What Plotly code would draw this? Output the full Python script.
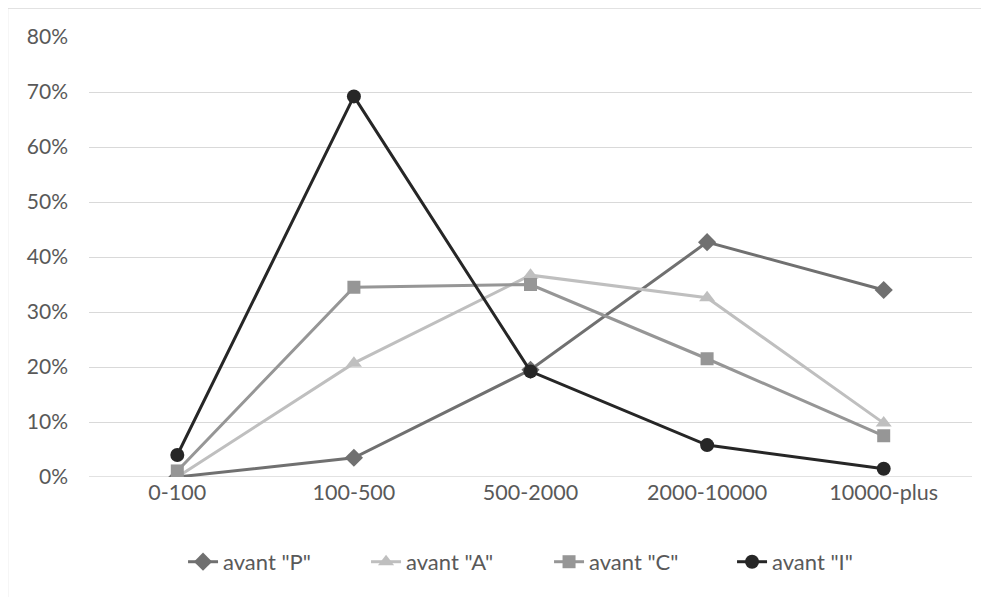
import plotly.graph_objects as go

categories = ["0-100", "100-500", "500-2000", "2000-10000", "10000-plus"]
avant_P = [0.0, 3.5, 19.5, 42.7, 34.0]
avant_A = [0.0, 20.7, 36.7, 32.6, 9.8]
avant_C = [1.1, 34.5, 35.0, 21.5, 7.5]
avant_I = [4.0, 69.2, 19.2, 5.8, 1.5]
y_ticks = [0, 10, 20, 30, 40, 50, 60, 70, 80]
y_tick_labels = [f"{v}%" for v in y_ticks]

series = [
    ('avant "P"', avant_P, "#707070", "diamond", 14),
    ('avant "A"', avant_A, "#bfbfbf", "triangle-up", 14),
    ('avant "C"', avant_C, "#969696", "square", 13),
    ('avant "I"', avant_I, "#262626", "circle", 14),
]

fig = go.Figure()
for name, vals, color, sym, size in series:
    fig.add_trace(go.Scatter(
        x=categories, y=vals, name=name, mode="lines+markers",
        line=dict(color=color, width=3),
        marker=dict(symbol=sym, size=size, color=color),
    ))

fig.update_layout(
    width=981, height=589,
    margin=dict(l=81, r=17, t=29, b=120),
    plot_bgcolor="white", paper_bgcolor="white",
    font=dict(family="Lato, Open Sans, sans-serif", color="#595959"),
    showlegend=True,
    legend=dict(orientation="h", x=0.1065, xanchor="left", y=-0.193, yanchor="middle",
                font=dict(size=22, color="#595959"), itemwidth=30,
                entrywidth=138, entrywidthmode="pixels"),
    xaxis=dict(showgrid=False, showline=False, zeroline=False, ticks="",
               tickfont=dict(size=21.5, color="#595959"), range=[-0.5, 4.5]),
    yaxis=dict(range=[0, 80], tickvals=y_ticks, ticktext=y_tick_labels,
               showgrid=True, gridcolor="#d9d9d9", gridwidth=1.3,
               zeroline=False, showline=False, ticks="",
               tickfont=dict(size=21, color="#595959"), ticklabelstandoff=20),
    shapes=[dict(type="rect", xref="paper", yref="paper",
                 x0=-0.0923, x1=1.03, y0=-0.3, y1=1.0659,
                 line=dict(color="#d9d9d9", width=1.5), layer="below")],
)
fig.add_hline(y=0, line=dict(color="#d9d9d9", width=1.3), layer="below")

fig.write_html("out.html")
